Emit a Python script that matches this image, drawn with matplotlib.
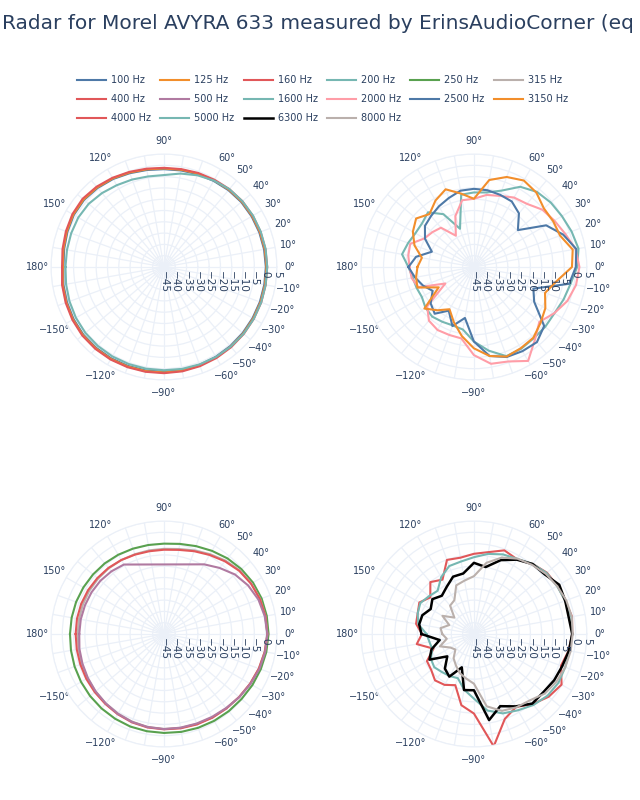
import numpy as np
import matplotlib
matplotlib.use("Agg")
import matplotlib.pyplot as plt
from matplotlib.transforms import ScaledTranslation

title = "Radar for Morel AVYRA 633 measured by ErinsAudioCorner (eq"

# measurement angles (deg), -180 .. 170
angles = [-180, -170, -160, -150, -140, -130, -120, -110, -100, -90,
          -80, -70, -60, -50, -40, -30, -20, -10, 0, 10,
          20, 30, 40, 50, 60, 70, 80, 90, 100, 110,
          120, 130, 140, 150, 160, 170]

# dB values, same order as angles
hz100 = [-0.5, 0.2, 0.7, 1.2, 1.6, 1.7, 1.7, 1.6, 1.5, 1.4, 1.3, 1.1, 0.9, 0.7, 0.5, 0.3, 0.2, 0.1,
         0.1, 0.0, -0.1, -0.2, -0.3, -0.6, -1.0, -1.3, -1.6, -1.7, -1.4, -0.8, 0.0, 0.7, 1.2, 1.1, 0.5, -0.1]
hz125 = [-0.2, 0.5, 1.0, 1.5, 1.9, 2.0, 2.0, 1.9, 1.8, 1.7, 1.6, 1.4, 1.2, 1.0, 0.8, 0.6, 0.5, 0.4,
         0.4, 0.3, 0.2, 0.1, 0.0, -0.3, -0.7, -1.0, -1.3, -1.4, -1.1, -0.5, 0.3, 1.0, 1.5, 1.4, 0.8, 0.2]
hz160 = [0.1, 0.8, 1.3, 1.8, 2.2, 2.3, 2.3, 2.2, 2.1, 2.0, 1.9, 1.7, 1.5, 1.3, 1.1, 0.9, 0.8, 0.7,
         0.7, 0.6, 0.5, 0.4, 0.3, 0.0, -0.4, -0.7, -1.0, -1.1, -0.8, -0.2, 0.6, 1.4, 2.0, 1.8, 1.2, 0.6]
hz200 = [-1.4, -1.0, -0.5, 0.0, 0.4, 0.6, 0.7, 0.7, 0.7, 0.7, 0.8, 0.9, 1.0, 1.0, 1.0, 0.9, 0.8, 0.7,
         0.7, 0.7, 0.6, 0.5, 0.3, 0.0, -0.8, -1.8, -3.0, -4.3, -4.3, -3.8, -3.2, -2.3, -1.5, -1.2, -1.3, -1.4]
hz250 = [-3.4, -3.2, -2.9, -2.6, -2.3, -2.0, -1.7, -1.4, -1.3, -1.2, -1.0, -0.8, -0.6, -0.4, -0.2, 0.2, 0.6, 1.0,
         1.3, 1.2, 1.0, 0.5, -0.3, -1.3, -2.5, -3.6, -4.5, -5.0, -5.0, -4.8, -4.5, -4.2, -4.0, -3.8, -3.6, -3.5]
hz315 = [-6.8, -6.6, -6.3, -5.9, -5.4, -4.9, -4.3, -3.7, -3.2, -3.0, -2.8, -2.6, -2.3, -2.0, -1.5, -0.9, -0.3, 0.3,
         0.7, 0.6, 0.3, -0.3, -1.2, -2.6, -4.2, -5.6, -6.8, -7.3, -7.4, -7.4, -7.2, -7.0, -6.9, -6.8, -6.8, -6.8]
hz400 = [-5.9, -5.8, -5.6, -5.3, -5.0, -4.6, -4.0, -3.4, -3.0, -2.8, -2.6, -2.4, -2.2, -2.0, -1.6, -1.0, -0.3, 0.3,
         0.8, 0.6, 0.2, -0.5, -1.5, -3.0, -4.6, -6.0, -7.2, -7.7, -7.8, -7.6, -7.2, -6.8, -6.5, -6.2, -6.0, -5.9]
hz500 = [-7.5, -7.0, -6.6, -6.1, -5.5, -4.9, -4.2, -3.6, -3.2, -2.9, -2.9, -2.8, -2.6, -2.2, -1.5, -0.8, 0.0, 0.5,
         0.8, 0.3, -0.5, -2.0, -4.0, -6.8, -9.4, np.nan, np.nan, np.nan, np.nan, np.nan, -9.5, -8.8, -8.3, -8.0, -7.8, -7.6]
hz1600 = [-16.0, -17.5, -18.0, -18.4, -17.0, -16.3, -17.0, -17.5, -16.9, -12.0, -7.4, -3.0, -3.2, -3.8, -3.8, -3.9, -2.8, -1.6,
          0.7, 2.0, 1.0, 0.0, -0.6, -1.6, -4.0, -9.0, -11.5, -12.0, -12.5, -27.0, -18.0, -13.4, -15.0, -15.1, -14.0, -12.7]
hz2000 = [-16.5, -17.0, -18.8, -30.4, -18.0, -14.0, -12.8, -13.0, -12.9, -6.0, -1.5, -0.5, 3.0, -3.0, -7.2, -4.0, -1.0, 0.9,
          1.7, 0.7, -2.0, -3.9, -5.5, -8.5, -9.5, -11.5, -12.6, -14.8, -15.0, -21.0, -29.0, -22.3, -21.0, -19.7, -15.0, -15.5]
hz2500 = [-16.0, -18.5, -21.0, -23.9, -20.0, -18.0, -22.7, -17.2, -22.1, -12.0, -5.0, -2.6, -2.0, -1.6, -4.4, -14.2, -17.0, -2.2,
          0.1, 1.0, -3.0, -8.1, -19.6, -14.0, -11.5, -11.0, -10.5, -10.4, -10.7, -12.5, -14.0, -15.5, -16.7, -20.0, -25.2, -19.0]
hz3150 = [-20.0, -19.0, -18.4, -27.0, -16.4, -20.0, -23.4, -19.0, -14.0, -9.0, -5.0, -2.8, -3.5, -4.1, -6.5, -8.5, -11.5, -8.0,
          -1.6, -0.6, -4.4, -4.5, -4.6, -2.0, -0.8, -2.6, -5.9, -14.8, -12.0, -8.4, -11.0, -14.4, -11.6, -13.8, -17.0, -21.6]
hz4000 = [-22.0, -19.3, -26.0, -21.0, -20.3, -18.2, -19.0, -20.9, -13.0, -9.8, 5.5, -5.0, -7.7, -4.5, -1.8, -0.2, -4.0, -2.4,
          -1.5, -0.9, -2.0, -2.3, -2.8, -4.5, -6.8, -5.6, -8.2, -9.5, -10.7, -10.1, -17.2, -15.0, -19.8, -17.1, -18.5, -19.0]
hz5000 = [-24.0, -25.0, -25.4, -23.0, -22.1, -23.0, -23.5, -24.2, -20.0, -16.4, -10.6, -7.6, -6.0, -4.0, -2.5, -1.8, -2.0, -2.0,
          -1.5, -1.2, -2.0, -2.5, -3.0, -4.5, -6.6, -7.5, -9.0, -11.0, -12.4, -13.0, -16.0, -20.0, -19.0, -17.6, -18.5, -20.0]
hz6300 = [-21.8, -29.6, -25.0, -22.3, -29.6, -25.0, -23.2, -29.3, -19.8, -20.1, -6.3, -11.0, -8.0, -4.8, -4.9, -4.0, -3.4, -2.3,
          -1.5, -2.4, -2.0, -1.4, -4.0, -4.6, -7.0, -10.2, -14.9, -13.5, -17.8, -18.0, -20.9, -22.9, -21.0, -22.9, -20.7, -20.4]
hz8000 = [-31.0, -32.8, -29.0, -33.0, -34.3, -31.0, -29.0, -26.6, -25.0, -23.0, -12.5, -8.8, -7.5, -6.6, -4.0, -2.8, -2.0, -1.5,
          -1.3, -1.0, -1.5, -2.5, -3.5, -5.0, -6.5, -9.0, -13.0, -19.4, -21.0, -22.1, -27.7, -28.6, -33.7, -28.9, -33.4, -30.0]

theta_ticks = [0, 10, 20, 30, 40, 50, 60, 90, 120, 150, 180, -150, -120, -90, -60, -50, -40, -30, -20, -10]
r_ticks = [-45, -40, -35, -30, -25, -20, -15, -10, -5, 0, 5]

text_color = "#2a3f5f"
grid_color = "#ebf0f8"

panels = [
    [("100 Hz", hz100, "#4E79A7"), ("125 Hz", hz125, "#F28E2B"),
     ("160 Hz", hz160, "#E15759"), ("200 Hz", hz200, "#76B7B2")],
    [("1600 Hz", hz1600, "#76B7B2"), ("2000 Hz", hz2000, "#FF9DA7"),
     ("2500 Hz", hz2500, "#4E79A7"), ("3150 Hz", hz3150, "#F28E2B")],
    [("250 Hz", hz250, "#59A14F"), ("315 Hz", hz315, "#BAB0AC"),
     ("400 Hz", hz400, "#E15759"), ("500 Hz", hz500, "#B07AA1")],
    [("4000 Hz", hz4000, "#E15759"), ("5000 Hz", hz5000, "#76B7B2"),
     ("6300 Hz", hz6300, "black"), ("8000 Hz", hz8000, "#BAB0AC")],
]
# axes rects (left, bottom, width, height) in figure fraction
rects = [(0.0797, 0.525, 0.353, 0.2825), (0.564, 0.525, 0.353, 0.2825),
         (0.0797, 0.06625, 0.353, 0.2825), (0.564, 0.06625, 0.353, 0.2825)]

fig = plt.figure(figsize=(6.4, 8), dpi=100)
fig.patch.set_facecolor("white")

lines = {}
for rect, traces in zip(rects, panels):
    ax = fig.add_axes(rect, projection="polar")
    ax.set_ylim(-45, 5)
    grid_deg = list(range(0, 360, 10))
    labs = []
    for g in grid_deg:
        d = g if g <= 180 else g - 360
        labs.append((f"{d}°".replace("-", "\u2212")) if d in theta_ticks else "")
    ax.set_thetagrids(grid_deg, labs)
    ax.set_rgrids(r_ticks[1:], labels=[""] * (len(r_ticks) - 1))
    ax.grid(color=grid_color, lw=0.9)
    ax.spines["polar"].set_color(grid_color)
    ax.tick_params(axis="x", labelsize=7, colors=text_color, pad=-1)
    off = ScaledTranslation(0, -3 / 72, fig.dpi_scale_trans)
    for r in r_ticks:
        ax.text(0, r, str(r).replace("-", "\u2212"), rotation=-90, ha="center", va="top",
                fontsize=7.5, color=text_color, transform=ax.transData + off)
    for name, vals, col in traces:
        th = np.deg2rad(np.append(angles, angles[0]))
        v = np.append(vals, vals[0])
        ok = ~np.isnan(v)
        ln, = ax.plot(th[ok], v[ok], color=col, lw=1.5 if col != "black" else 1.8, label=name)
        lines[name] = ln

legend_order = ["100 Hz", "125 Hz", "160 Hz", "200 Hz", "250 Hz", "315 Hz",
                "400 Hz", "500 Hz", "1600 Hz", "2000 Hz", "2500 Hz", "3150 Hz",
                "4000 Hz", "5000 Hz", "6300 Hz", "8000 Hz"]
ncol = 6
colmajor = []
for c in range(ncol):
    for r in range(3):
        i = r * ncol + c
        if i < len(legend_order):
            colmajor.append(legend_order[i])
leg = fig.legend([lines[n] for n in colmajor], colmajor, ncol=ncol, loc="upper left",
                 bbox_to_anchor=(77 / 640, 1 - 75 / 800), frameon=False, fontsize=7,
                 handlelength=3.0, handletextpad=0.5, columnspacing=0.95,
                 labelspacing=0.95, borderpad=0, borderaxespad=0)
for t in leg.get_texts():
    t.set_color(text_color)

fig.text(0.003, 1 - 29 / 800, title, fontsize=14.5, color=text_color, ha="left", va="baseline")

fig.savefig("out.png", dpi=100, facecolor="white")
